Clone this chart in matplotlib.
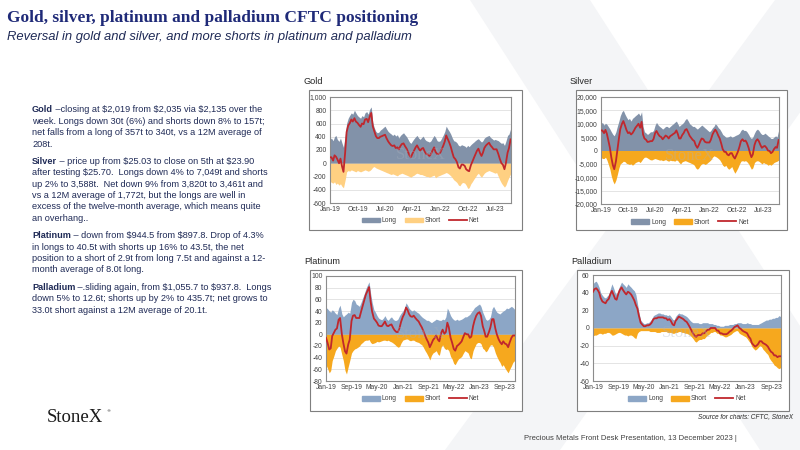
import matplotlib
matplotlib.use("Agg")
import matplotlib.pyplot as plt
from matplotlib.patches import Rectangle, Polygon, Patch
from matplotlib.lines import Line2D
import numpy as np
import pandas as pd

W, H = 800, 450

# semi-monthly dates, Jan 2019 .. Dec 2023
dates = pd.date_range("2019-01-01", periods=119, freq="SMS")

gold_long = [
    360, 380, 340, 400, 420, 360, 330, 380, 300, 240, 420, 600, 680, 720, 760, 740, 800, 760, 720, 700, 680, 720, 700, 760,
    780, 740, 820, 850, 620, 540, 480, 460, 470, 500, 520, 540, 560, 520, 480, 460, 440, 420, 440, 410, 430, 380, 420, 440,
    460, 430, 400, 360, 320, 300, 340, 370, 400, 420, 380, 360, 390, 410, 360, 340, 330, 320, 340, 380, 420, 390, 340, 330,
    340, 380, 430, 480, 560, 520, 480, 440, 380, 340, 330, 310, 270, 260, 280, 270, 260, 240, 270, 250, 280, 300, 320, 340,
    360, 370, 340, 320, 340, 380, 400, 410, 420, 390, 370, 350, 360, 350, 340, 320, 300, 310, 270, 330, 420, 440, 520]
gold_short = [
    -270, -290, -300, -280, -320, -300, -330, -310, -350, -370, -250, -130, -110, -120, -100, -110, -120, -130, -110, -120, -130, -120, -110, -100,
    -110, -120, -110, -90, -60, -50, -70, -80, -90, -100, -110, -120, -130, -140, -150, -160, -170, -160, -170, -180, -190, -170, -160, -150,
    -160, -170, -180, -190, -200, -210, -190, -180, -160, -150, -160, -170, -170, -180, -190, -200, -200, -210, -200, -190, -180, -220, -200, -190,
    -180, -170, -160, -150, -140, -150, -170, -190, -220, -250, -270, -290, -330, -340, -300, -290, -300, -330, -380, -370, -310, -280, -240, -210,
    -170, -150, -190, -210, -180, -150, -130, -120, -110, -120, -130, -140, -150, -140, -200, -250, -300, -330, -360, -330, -260, -210, -160]

silver_long = [
    10000, 10500, 9500, 10200, 9800, 9000, 8000, 7000, 6000, 5500, 7000, 9000, 11000, 13000, 14500, 15000, 13500, 12500, 11500, 12000, 11000, 12000, 12500, 13000,
    13500, 14000, 13000, 14500, 9000, 7000, 6500, 6000, 6500, 7000, 7000, 7500, 9500, 10500, 9500, 9000, 8500, 8000, 8500, 9000, 9000, 8500, 9000, 9500,
    10000, 10500, 11000, 10000, 9000, 9500, 10000, 10500, 11500, 12000, 11000, 10000, 9500, 9000, 9000, 8500, 8000, 8500, 9000, 9500, 9000, 8500, 8000, 7500,
    7000, 7500, 8500, 9000, 10000, 9500, 8500, 8000, 7000, 6000, 5500, 5000, 5000, 5200, 5500, 5000, 5200, 5500, 5800, 6000, 6500, 7500, 8000, 7500,
    7500, 7000, 6000, 5000, 4500, 5000, 6500, 7500, 8000, 7500, 6500, 6000, 6000, 6500, 6000, 5500, 5000, 4500, 4500, 5000, 5500, 5000, 7500]
silver_short = [
    -2500, -3000, -3000, -2500, -3500, -5000, -7000, -9500, -11500, -12500, -11000, -9000, -6500, -5000, -4500, -4000, -4200, -4800, -5000, -5200, -5000, -5500, -5000, -4500,
    -4200, -4000, -4500, -3800, -3000, -2500, -2500, -2800, -3200, -3500, -3500, -3200, -3000, -3200, -3400, -3600, -3500, -3800, -3600, -3400, -3800, -4000, -3600, -3800,
    -3800, -4000, -3500, -3800, -4500, -5000, -4200, -4000, -3800, -4000, -4300, -4500, -4800, -5000, -5500, -6500, -7000, -6500, -5500, -5000, -4800, -5200, -5000, -4500,
    -4000, -3500, -2500, -2000, -2200, -2500, -3000, -3500, -4500, -5500, -6000, -5500, -6500, -7000, -6500, -6000, -7500, -8500, -7500, -6500, -5000, -4000, -3800, -4000,
    -3800, -4200, -5000, -6000, -7000, -6500, -4500, -4000, -3800, -4000, -4500, -5000, -4500, -4800, -5000, -5500, -5200, -5500, -5000, -4500, -4200, -4000, -3600]

plat_long = [
    46, 44, 40, 38, 42, 40, 36, 34, 45, 50, 35, 30, 33, 35, 38, 36, 55, 60, 58, 52, 50, 48, 55, 62,
    70, 78, 85, 90, 70, 55, 42, 38, 32, 28, 26, 25, 28, 32, 26, 24, 28, 30, 26, 24, 24, 26, 32, 36,
    40, 44, 54, 50, 45, 42, 40, 42, 40, 38, 36, 33, 30, 28, 26, 24, 24, 22, 20, 22, 24, 26, 25, 24,
    24, 26, 25, 30, 45, 40, 32, 28, 25, 24, 26, 24, 25, 26, 28, 30, 30, 32, 34, 38, 42, 46, 48, 50,
    52, 48, 38, 32, 26, 24, 26, 30, 44, 48, 42, 38, 36, 35, 38, 40, 42, 45, 44, 46, 48, 46, 43]
plat_short = [
    -52, -58, -66, -62, -45, -38, -28, -24, -20, -22, -35, -45, -62, -68, -55, -45, -32, -28, -25, -24, -22, -20, -16, -14,
    -11, -10, -10, -9, -14, -16, -15, -14, -12, -13, -12, -11, -10, -10, -11, -10, -12, -13, -15, -17, -20, -22, -21, -15,
    -10, -9, -8, -8, -10, -11, -10, -10, -12, -13, -14, -16, -18, -22, -28, -32, -38, -44, -36, -32, -30, -28, -34, -36,
    -22, -18, -24, -26, -25, -28, -38, -42, -50, -52, -46, -42, -40, -38, -32, -28, -30, -32, -40, -42, -28, -22, -16, -14,
    -14, -16, -24, -26, -30, -28, -22, -18, -18, -22, -32, -38, -44, -48, -55, -52, -58, -62, -66, -60, -54, -48, -45]

pall_long = [
    50, 52, 53, 50, 46, 40, 37, 35, 34, 36, 38, 44, 50, 46, 40, 38, 44, 48, 52, 50, 48, 46, 50, 48,
    46, 44, 42, 38, 28, 18, 9, 7, 5, 5, 6, 6, 8, 10, 14, 15, 16, 17, 17, 16, 16, 15, 15, 14,
    15, 13, 10, 9, 13, 15, 17, 16, 16, 15, 14, 13, 11, 9, 7, 6, 6, 6, 6, 5, 5, 6, 6, 6,
    6, 5, 5, 5, 4, 4, 3, 3, 2, 2, 2, 3, 3, 3, 4, 4, 4, 5, 5, 6, 6, 6, 5, 5,
    5, 6, 5, 5, 4, 4, 4, 4, 4, 5, 6, 7, 8, 9, 9, 10, 10, 11, 11, 12, 12, 14, 13]
pall_short = [
    -9, -8, -8, -7, -6, -6, -7, -6, -6, -5, -5, -6, -8, -8, -7, -6, -5, -5, -6, -7, -8, -8, -9, -8,
    -8, -9, -11, -12, -6, -4, -3, -3, -3, -3, -3, -3, -4, -4, -4, -4, -5, -5, -5, -4, -4, -4, -4, -5,
    -5, -5, -6, -6, -5, -5, -4, -4, -5, -5, -6, -6, -7, -8, -10, -12, -15, -16, -14, -13, -13, -12, -12, -10,
    -8, -7, -5, -5, -4, -4, -6, -6, -8, -8, -9, -10, -10, -9, -8, -7, -5, -4, -3, -3, -6, -7, -8, -9,
    -10, -12, -15, -17, -21, -23, -25, -24, -22, -20, -21, -24, -26, -28, -30, -34, -37, -39, -42, -43, -45, -46, -45]

gold_yticks = [1000, 800, 600, 400, 200, 0, -200, -400, -600]
silver_yticks = [20000, 15000, 10000, 5000, 0, -5000, -10000, -15000, -20000]
plat_yticks = [100, 80, 60, 40, 20, 0, -20, -40, -60, -80]
pall_yticks = [60, 40, 20, 0, -20, -40, -60]

ticks_9m = pd.date_range("2019-01-01", periods=7, freq="9MS")
ticks_8m = pd.date_range("2019-01-01", periods=8, freq="8MS")

NAVY = "#1F2A56"
NET = "#C0272D"
NARROW = ["Liberation Sans Narrow", "Liberation Sans", "DejaVu Sans"]

fig = plt.figure(figsize=(8, 4.5), dpi=100)
fig.patch.set_facecolor("white")


def fx(x):
    return x / W


def fy(y):
    return 1 - y / H


# faint X watermark behind the slide
bg = fig.add_axes([0, 0, 1, 1], zorder=-10)
bg.set_xlim(0, W)
bg.set_ylim(H, 0)
bg.axis("off")
bg.add_patch(Polygon([(470, 0), (590, 0), (880, 450), (760, 450)], color="#F4F5F7", lw=0))
bg.add_patch(Polygon([(775, 0), (880, 0), (560, 450), (445, 450)], color="#F4F5F7", lw=0))

# title block
fig.text(fx(7), fy(18), "Gold, silver, platinum and palladium CFTC positioning",
         family="Liberation Serif", weight="bold", fontsize=12.5, color="#1F2A78", va="center")
fig.text(fx(7), fy(37), "Reversal in gold and silver, and more shorts in platinum and palladium",
         family="Liberation Sans", style="italic", fontsize=9.4, color=NAVY, va="center")

# commentary
paras = [
    ("Gold", [" \u2013closing at $2,019 from $2,035 via $2,135 over the",
              "week. Longs down 30t (6%) and shorts down 8% to 157t;",
              "net falls from a long of 357t to 340t, vs a 12M average of",
              "208t."]),
    ("Silver", [" \u2013 price up from $25.03 to close on 5th at $23.90",
                "after testing $25.70.  Longs down 4% to 7,049t and shorts",
                "up 2% to 3,588t.  Net down 9% from 3,820t to 3,461t and",
                "vs a 12M average of 1,772t, but the longs are well in",
                "excess of the twelve-month average, which means quite",
                "an overhang.."]),
    ("Platinum", [" \u2013 down from $944.5 from $897.8. Drop of 4.3%",
                  "in longs to 40.5t with shorts up 16% to 43.5t, the net",
                  "position to a short of 2.9t from long 7.5t and against a 12-",
                  "month average of 8.0t long."]),
    ("Palladium", [" \u2013.sliding again, from $1,055.7 to $937.8.  Longs",
                   "down 5% to 12.6t; shorts up by 2% to 435.7t; net grows to",
                   "33.0t short against a 12M average of 20.1t."]),
]
renderer = fig.canvas.get_renderer()
y = 110.0
for head, lines in paras:
    t = fig.text(fx(32), fy(y), head, family="Liberation Sans", weight="bold",
                 fontsize=6.6, color=NAVY, va="center", parse_math=False)
    bb = t.get_window_extent(renderer)
    fig.text(bb.x1 / fig.bbox.width, fy(y), lines[0], family="Liberation Sans",
             fontsize=6.6, color=NAVY, va="center", parse_math=False)
    for ln in lines[1:]:
        y += 11.35
        fig.text(fx(32), fy(y), ln, family="Liberation Sans", fontsize=6.6, color=NAVY,
                 va="center", parse_math=False)
    y += 11.35 + 6.2


def chart(frame, plot, title, long, short, yticks, xticks, cols, fmt):
    fl, ft, fr, fb = frame
    bg.add_patch(Rectangle((fl, ft), fr - fl, fb - ft, facecolor="white",
                           edgecolor="#7F7F7F", lw=0.8, zorder=1))
    fig.text(fx(fl - 6), fy(ft - 8), title, family=NARROW, fontsize=6.6, color="#262626", va="center")
    pl, pt, pr, pb = plot
    ax = fig.add_axes([fx(pl), fy(pb), fx(pr - pl), (pb - pt) / H])
    long = np.array(long, dtype=float)
    short = np.array(short, dtype=float)
    net = long + short
    ax.fill_between(dates, 0, long, color=cols[0], lw=0, zorder=2)
    ax.fill_between(dates, 0, short, color=cols[1], lw=0, zorder=2)
    ax.plot(dates, net, color=NET, lw=1.3, zorder=3)
    ax.text(0.5, 0.45, "StoneX", transform=ax.transAxes, ha="center", va="center",
            family="Liberation Serif", fontsize=12, color="#A9B1BD", alpha=0.35, zorder=4)
    ax.set_ylim(min(yticks), max(yticks))
    ax.set_xlim(dates[0], pd.Timestamp("2023-12-05"))
    ax.set_yticks(yticks)
    ax.set_yticklabels([fmt.format(v) for v in yticks])
    ax.set_xticks(xticks)
    ax.set_xticklabels([d.strftime("%b-%y") for d in xticks])
    ax.grid(axis="y", color="#D9D9D9", lw=0.5, zorder=0)
    ax.set_axisbelow(True)
    ax.tick_params(length=0, labelsize=4.9, labelcolor="#404040", pad=2.5)
    for lab in ax.get_xticklabels() + ax.get_yticklabels():
        lab.set_family(NARROW)
    for s in ax.spines.values():
        s.set_color("#8C8C8C")
        s.set_linewidth(0.8)
    handles = [Patch(color=cols[0]), Patch(color=cols[1]), Line2D([], [], color=NET, lw=1.3)]
    leg = fig.legend(handles, ["Long", "Short", "Net"], loc="center",
                     bbox_to_anchor=(fx((pl + pr) / 2), fy(pb + 18)), ncol=3, frameon=False,
                     prop={"family": NARROW, "size": 4.9}, handlelength=2.6, handleheight=0.7,
                     handletextpad=0.3, columnspacing=1.2, borderpad=0)
    for t in leg.get_texts():
        t.set_color("#404040")
    return ax


chart((309, 90, 522, 230), (330, 97, 511, 203), "Gold", gold_long, gold_short,
      gold_yticks, ticks_9m, ("#8292A9", "#FFD082"), "{:,}")
chart((576, 90, 787, 230), (601, 97, 779, 204), "Silver", silver_long, silver_short,
      silver_yticks, ticks_9m, ("#8292A9", "#F6A81E"), "{:,}")
chart((310, 270, 522, 411), (326, 276, 515, 381), "Platinum", plat_long, plat_short,
      plat_yticks, ticks_8m, ("#8CA6C6", "#F6A81E"), "{}")
chart((577, 270, 789, 411), (593, 275, 781, 381), "Palladium", pall_long, pall_short,
      pall_yticks, ticks_8m, ("#8CA6C6", "#F6A81E"), "{}")

fig.text(fx(793), fy(417), "Source for charts: CFTC, StoneX", family="Liberation Sans",
         style="italic", fontsize=4.7, color="#262626", ha="right", va="center")
fig.text(fx(524), fy(438), "Precious Metals Front Desk Presentation, 13 December 2023 |",
         family=NARROW, fontsize=5.5, color="#404040", va="center")

# logo
fig.text(fx(47), fy(418), "StoneX", family="Liberation Serif", fontsize=13.5,
         color="#1A1A1A", va="center")
fig.text(fx(106), fy(411), "\u00ae", family="DejaVu Sans", fontsize=3, color="#1A1A1A", va="center")

fig.savefig("out.png", dpi=100, facecolor="white")
